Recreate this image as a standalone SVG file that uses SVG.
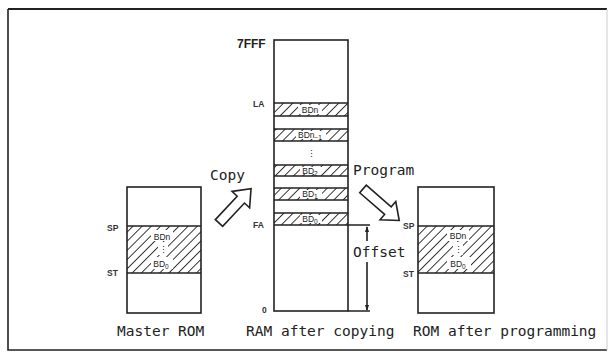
<svg xmlns="http://www.w3.org/2000/svg" width="610" height="356" viewBox="0 0 610 356">
  <defs>
    <pattern id="hatch" patternUnits="userSpaceOnUse" width="6.5" height="6.5" patternTransform="rotate(45)">
      <line x1="0" y1="0" x2="0" y2="6.5" stroke="#222" stroke-width="1.8"/>
    </pattern>
    <style>
      .box { fill: #fff; stroke: #222; stroke-width: 1.6; }
      .hatch { fill: url(#hatch); stroke: none; }
      .line { stroke: #222; stroke-width: 1.6; fill: none; }
      .mono { font-family: "DejaVu Sans Mono", "Liberation Mono", monospace; font-size: 14.5px; fill: #222; }
      .lbl { font-family: "Liberation Sans", Arial, sans-serif; font-size: 8.5px; font-weight: bold; fill: #333; }
      .addr { font-family: "Liberation Sans", Arial, sans-serif; font-size: 12px; font-weight: bold; fill: #222; }
      .bd { font-family: "Liberation Sans", Arial, sans-serif; font-size: 8.5px; fill: #222; text-anchor: middle; }
      .sub { font-size: 6.5px; }
      .gap { fill: #fff; stroke: none; }
      .arrow { fill: #fff; stroke: #222; stroke-width: 1.6; stroke-linejoin: miter; }
    </style>
  </defs>

  <rect width="610" height="356" fill="#fff"/>

  <g id="frame">
    <path d="M8 9 L607 9" stroke="#222" stroke-width="2" fill="none"/>
    <path d="M8 9 L8 350 L607 350" stroke="#222" stroke-width="1.6" fill="none"/>
    <path d="M607 9 L607 350" stroke="#ccc" stroke-width="1" fill="none"/>
  </g>

  <g id="master-rom">
    <rect class="box" x="127" y="187" width="74" height="126"/>
    <rect class="hatch" x="127" y="226" width="74" height="47"/>
    <rect class="gap" x="151" y="230" width="22" height="11"/>
    <rect class="gap" x="158" y="242" width="10" height="13"/>
    <rect class="gap" x="151" y="257" width="22" height="12"/>
    <path class="line" d="M127 226 H201 M127 273 H201"/>
    <text class="bd" x="162" y="240">BDn</text>
    <text class="bd" x="163" y="253">⋮</text>
    <text class="bd" x="161" y="267">BD<tspan class="sub" dy="1.5">0</tspan></text>
    <text class="lbl" x="107" y="231">SP</text>
    <text class="lbl" x="107" y="276">ST</text>
    <text class="mono" x="117" y="336">Master ROM</text>
  </g>

  <g id="ram">
    <rect class="box" x="274" y="40" width="74" height="271"/>
    <rect class="hatch" x="274" y="103" width="74" height="13"/>
    <rect class="hatch" x="274" y="129" width="74" height="12"/>
    <rect class="hatch" x="274" y="165" width="74" height="11"/>
    <rect class="hatch" x="274" y="188" width="74" height="12"/>
    <rect class="hatch" x="274" y="213" width="74" height="12"/>
    <rect class="gap" x="298" y="105" width="24" height="9"/>
    <rect class="gap" x="296" y="131" width="30" height="8"/>
    <rect class="gap" x="300" y="167" width="22" height="7"/>
    <rect class="gap" x="300" y="190" width="22" height="8"/>
    <rect class="gap" x="300" y="215" width="22" height="8"/>
    <path class="line" d="M274 103 H348 M274 116 H348 M274 129 H348 M274 141 H348 M274 165 H348 M274 176 H348 M274 188 H348 M274 200 H348 M274 213 H348 M274 225 H348"/>
    <text class="bd" x="310" y="113">BDn</text>
    <text class="bd" x="310" y="138">BDn<tspan class="sub" dy="1.5">−1</tspan></text>
    <text class="bd" x="311" y="157">⋮</text>
    <text class="bd" x="310" y="174">BD<tspan class="sub" dy="1.5">2</tspan></text>
    <text class="bd" x="310" y="197">BD<tspan class="sub" dy="1.5">1</tspan></text>
    <text class="bd" x="310" y="222">BD<tspan class="sub" dy="1.5">0</tspan></text>
    <text class="addr" x="237" y="48">7FFF</text>
    <text class="lbl" x="253" y="107">LA</text>
    <text class="lbl" x="253" y="228">FA</text>
    <text class="lbl" x="262" y="313">0</text>
    <text class="mono" x="246" y="336">RAM after copying</text>
  </g>

  <g id="rom-after">
    <rect class="box" x="418" y="187" width="76" height="126"/>
    <rect class="hatch" x="418" y="226" width="76" height="47"/>
    <rect class="gap" x="447" y="230" width="22" height="11"/>
    <rect class="gap" x="453" y="242" width="10" height="13"/>
    <rect class="gap" x="447" y="257" width="24" height="12"/>
    <path class="line" d="M418 226 H494 M418 273 H494"/>
    <text class="bd" x="458" y="239">BDn</text>
    <text class="bd" x="458" y="253">⋮</text>
    <text class="bd" x="458" y="267">BD<tspan class="sub" dy="1.5">0</tspan></text>
    <text class="lbl" x="403" y="229">SP</text>
    <text class="lbl" x="403" y="277">ST</text>
    <text class="mono" x="413" y="336">ROM after programming</text>
  </g>

  <g id="connectors">
    <g id="copy-arrow">
      <polygon class="arrow" transform="translate(219 223) rotate(-47)" points="0,-5 32,-5 32,-12 47,0 32,12 32,5 0,5"/>
      <text class="mono" x="210" y="180">Copy</text>
    </g>
    <g id="program-arrow">
      <polygon class="arrow" transform="translate(363 189) rotate(41)" points="0,-5 33,-5 33,-12 48,0 33,12 33,5 0,5"/>
      <text class="mono" x="353" y="175">Program</text>
    </g>
    <g id="offset">
      <path class="line" d="M348 225 H370 M348 311 H370" stroke-width="1.4"/>
      <path class="line" d="M367 227 V241 M367 262 V310" stroke-width="1.3"/>
      <path d="M367 226 L365 232 L369 232 Z" fill="#222"/>
      <path d="M367 311 L365 305 L369 305 Z" fill="#222"/>
      <text class="mono" x="353" y="257">Offset</text>
    </g>
  </g>
</svg>
